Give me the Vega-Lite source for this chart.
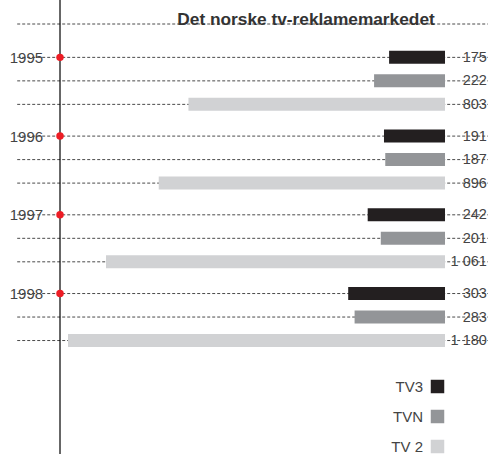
{
  "$schema": "https://vega.github.io/schema/vega-lite/v6.json",
  "width": 493,
  "height": 454,
  "autosize": {"type": "none"},
  "padding": 0,
  "background": "white",
  "config": {
    "view": {"stroke": null},
    "font": "Liberation Sans"
  },
  "datasets": {
    "market": [
      {"year": "1995", "channel": "TV3", "value": 175, "label": "175", "pos": 1.42},
      {"year": "1995", "channel": "TVN", "value": 222, "label": "222", "pos": 2.42},
      {"year": "1995", "channel": "TV 2", "value": 803, "label": "803", "pos": 3.42},
      {"year": "1996", "channel": "TV3", "value": 191, "label": "191", "pos": 4.77},
      {"year": "1996", "channel": "TVN", "value": 187, "label": "187", "pos": 5.77},
      {"year": "1996", "channel": "TV 2", "value": 896, "label": "896", "pos": 6.77},
      {"year": "1997", "channel": "TV3", "value": 242, "label": "242", "pos": 8.12},
      {"year": "1997", "channel": "TVN", "value": 201, "label": "201", "pos": 9.12},
      {"year": "1997", "channel": "TV 2", "value": 1061, "label": "1 061", "pos": 10.12},
      {"year": "1998", "channel": "TV3", "value": 303, "label": "303", "pos": 11.47},
      {"year": "1998", "channel": "TVN", "value": 283, "label": "283", "pos": 12.47},
      {"year": "1998", "channel": "TV 2", "value": 1180, "label": "1 180", "pos": 13.47}
    ],
    "head": [
      {"text": "Det norske tv-reklamemarkedet", "pos": 0}
    ]
  },
  "data": {"name": "market"},
  "encoding": {
    "y": {
      "field": "pos",
      "type": "quantitative",
      "scale": {"domain": [-1.0213, 18.298], "reverse": true, "nice": false, "zero": false, "padding": 0},
      "axis": null
    }
  },
  "layer": [
    {
      "data": {"name": "head"},
      "mark": {"type": "rule", "stroke": "#4a4a4a", "strokeWidth": 1, "strokeDash": [3, 2]},
      "encoding": {
        "x": {"datum": 1339, "type": "quantitative", "scale": {"domain": [-150.2, 1392.8], "reverse": true, "nice": false, "zero": false, "padding": 0}, "axis": null},
        "x2": {"datum": -134}
      }
    },
    {
      "mark": {"type": "rule", "stroke": "#4a4a4a", "strokeWidth": 1, "strokeDash": [3, 2]},
      "encoding": {
        "x": {"datum": 1339, "type": "quantitative"},
        "x2": {"datum": -134}
      }
    },
    {
      "data": {"name": "head"},
      "mark": {"type": "rule", "stroke": "#000000", "strokeWidth": 1.2},
      "encoding": {
        "x": {"datum": 1205, "type": "quantitative"},
        "y": null
      }
    },
    {
      "mark": {"type": "bar", "size": 13},
      "encoding": {
        "x": {"field": "value", "type": "quantitative"},
        "x2": {"datum": 0},
        "color": {
          "field": "channel",
          "type": "nominal",
          "scale": {"domain": ["TV3", "TVN", "TV 2"], "range": ["#231f20", "#939598", "#d1d2d4"]},
          "legend": {
            "title": null,
            "orient": "none",
            "legendX": 430,
            "legendY": 379,
            "symbolType": "square",
            "symbolSize": 182,
            "symbolStrokeWidth": 0,
            "labelAlign": "right",
            "labelOffset": -22,
            "labelFontSize": 15,
            "labelColor": "#444444",
            "labelFont": "Liberation Sans",
            "rowPadding": 14,
            "padding": 0
          }
        }
      }
    },
    {
      "transform": [{"filter": "datum.channel === 'TV3'"}],
      "mark": {"type": "point", "shape": "circle", "filled": true, "color": "#ed1c24", "size": 56, "opacity": 1},
      "encoding": {
        "x": {"datum": 1205, "type": "quantitative"}
      }
    },
    {
      "transform": [{"filter": "datum.channel === 'TV3'"}],
      "mark": {"type": "text", "align": "right", "baseline": "middle", "fontSize": 15, "color": "#444444", "dy": 0.5},
      "encoding": {
        "x": {"datum": 1258, "type": "quantitative"},
        "text": {"field": "year"}
      }
    },
    {
      "mark": {"type": "text", "align": "right", "baseline": "middle", "fontSize": 14.5, "color": "#444444", "dy": 0.5},
      "encoding": {
        "x": {"datum": -131, "type": "quantitative"},
        "text": {"field": "label"}
      }
    },
    {
      "data": {"name": "head"},
      "mark": {"type": "text", "align": "center", "baseline": "alphabetic", "fontSize": 17.3, "fontWeight": "bold", "color": "#333333", "dy": 1},
      "encoding": {
        "x": {"datum": 435, "type": "quantitative"},
        "text": {"field": "text"}
      }
    }
  ]
}
